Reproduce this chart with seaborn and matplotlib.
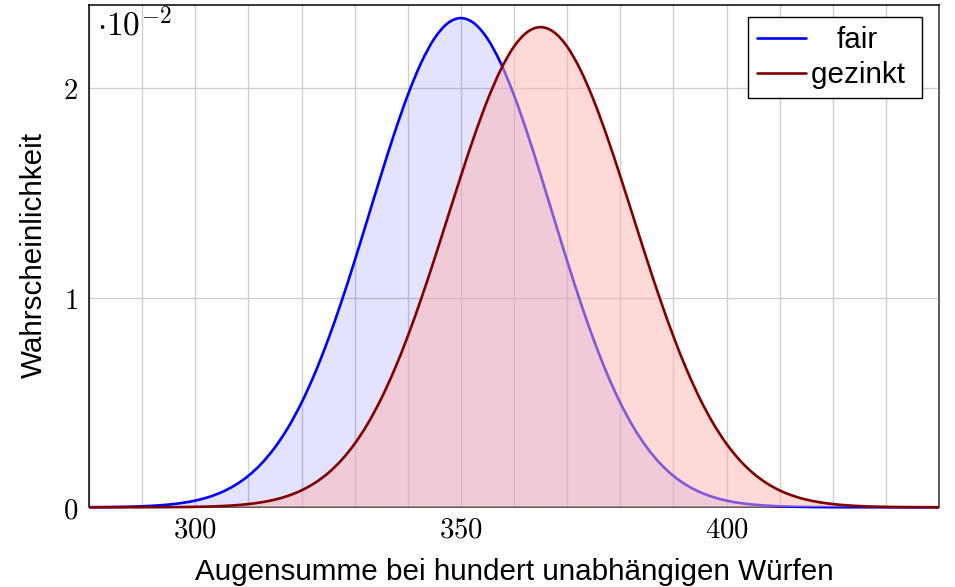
import matplotlib
matplotlib.use("Agg")
import matplotlib.pyplot as plt
from matplotlib.ticker import FixedLocator, MultipleLocator, FuncFormatter
from matplotlib.path import Path
from matplotlib.patches import PathPatch
from matplotlib.lines import Line2D
import seaborn as sns

# Augensumme bei 100 Würfen (Stützstellen)
augensumme = [280.0, 282.5, 285.0, 287.5, 290.0, 292.5, 295.0, 297.5, 300.0, 302.5,
              305.0, 307.5, 310.0, 312.5, 315.0, 317.5, 320.0, 322.5, 325.0, 327.5,
              330.0, 332.5, 335.0, 337.5, 340.0, 342.5, 345.0, 347.5, 350.0, 352.5,
              355.0, 357.5, 360.0, 362.5, 365.0, 367.5, 370.0, 372.5, 375.0, 377.5,
              380.0, 382.5, 385.0, 387.5, 390.0, 392.5, 395.0, 397.5, 400.0, 402.5,
              405.0, 407.5, 410.0, 412.5, 415.0, 417.5, 420.0, 422.5, 425.0, 427.5,
              430.0, 432.5, 435.0, 437.5, 440.0]

# Wahrscheinlichkeit in Einheiten von 10^-2
fair = [0.0005, 0.0009, 0.0017, 0.0029, 0.0049, 0.0081, 0.0131, 0.0207, 0.0321, 0.0488,
        0.0726, 0.1056, 0.1504, 0.2097, 0.2861, 0.3820, 0.4993, 0.6389, 0.8001, 0.9808,
        1.1767, 1.3819, 1.5884, 1.7871, 1.9680, 2.1213, 2.2380, 2.3111, 2.3360, 2.3111,
        2.2380, 2.1213, 1.9680, 1.7871, 1.5884, 1.3819, 1.1767, 0.9808, 0.8001, 0.6389,
        0.4993, 0.3820, 0.2861, 0.2097, 0.1504, 0.1056, 0.0726, 0.0488, 0.0321, 0.0207,
        0.0131, 0.0081, 0.0049, 0.0029, 0.0017, 0.0009, 0.0005, 0.0003, 0.0002, 0.0001,
        0.0000, 0.0000, 0.0000, 0.0000, 0.0000]

gezinkt = [0.0000, 0.0000, 0.0001, 0.0001, 0.0002, 0.0004, 0.0007, 0.0012, 0.0021, 0.0036,
           0.0060, 0.0097, 0.0155, 0.0242, 0.0369, 0.0552, 0.0809, 0.1161, 0.1632, 0.2248,
           0.3032, 0.4006, 0.5186, 0.6576, 0.8168, 0.9937, 1.1843, 1.3827, 1.5812, 1.7713,
           1.9438, 2.0894, 2.2001, 2.2693, 2.2928, 2.2693, 2.2001, 2.0894, 1.9438, 1.7713,
           1.5812, 1.3827, 1.1843, 0.9937, 0.8168, 0.6576, 0.5186, 0.4006, 0.3032, 0.2248,
           0.1632, 0.1161, 0.0809, 0.0552, 0.0369, 0.0242, 0.0155, 0.0097, 0.0060, 0.0036,
           0.0021, 0.0012, 0.0007, 0.0004, 0.0002]

serien = ["fair", "gezinkt"]
x_ticks = [300, 350, 400]
y_ticks = [0, 1, 2]
x_label = "Augensumme bei hundert unabhängigen Würfen"
y_label = "Wahrscheinlichkeit"
skala = r"$\cdot 10^{-2}$"

sns.set_theme(style="white")
plt.rcParams["font.family"] = ["Liberation Sans", "DejaVu Sans"]
plt.rcParams["mathtext.fontset"] = "cm"
plt.rcParams["text.color"] = "black"
plt.rcParams["axes.labelcolor"] = "black"

W, H = 955, 587
fig, ax = plt.subplots(figsize=(W / 100, H / 100), dpi=100)
ax_l, ax_r, ax_t, ax_b = 89, 939, 4.7, 507.3
fig.subplots_adjust(left=ax_l / W, right=ax_r / W, top=1 - ax_t / H, bottom=1 - ax_b / H)


def glatter_pfad(xs, ys, schliessen=False):
    """Stützstellen als glatte Bézier-Kurve (Catmull-Rom) verbinden."""
    n = len(xs)
    verts = [(xs[0], ys[0])]
    codes = [Path.MOVETO]
    for i in range(n - 1):
        xa, ya = (xs[i - 1], ys[i - 1]) if i > 0 else (xs[i], ys[i])
        xb, yb = (xs[i + 2], ys[i + 2]) if i + 2 < n else (xs[i + 1], ys[i + 1])
        c1 = (xs[i] + (xs[i + 1] - xa) / 6, ys[i] + (ys[i + 1] - ya) / 6)
        c2 = (xs[i + 1] - (xb - xs[i]) / 6, ys[i + 1] - (yb - ys[i]) / 6)
        verts += [c1, c2, (xs[i + 1], ys[i + 1])]
        codes += [Path.CURVE4] * 3
    if schliessen:
        verts += [(xs[-1], 0.0), (xs[0], 0.0), (xs[0], ys[0])]
        codes += [Path.LINETO, Path.LINETO, Path.CLOSEPOLY]
    return Path(verts, codes)


blau = (0.0, 0.0, 1.0)
dunkelrot = (0.5, 0.0, 0.0)
stile = {
    "fair": dict(werte=fair, linie=blau, flaeche=blau, alpha=0.11),
    "gezinkt": dict(werte=gezinkt, linie=dunkelrot, flaeche=(1.0, 0.7, 0.7), alpha=0.5),
}

# Flächen und Kurven: fair zuerst, gezinkt halbtransparent darüber
z = 2
handles = []
for name in serien:
    s = stile[name]
    ax.add_patch(PathPatch(glatter_pfad(augensumme, s["werte"], True),
                           facecolor=s["flaeche"], alpha=s["alpha"],
                           edgecolor="none", zorder=z))
    ax.add_patch(PathPatch(glatter_pfad(augensumme, s["werte"]), fill=False,
                           edgecolor=s["linie"], linewidth=1.9, zorder=z + 1,
                           clip_on=False, joinstyle="round", capstyle="butt"))
    handles.append(Line2D([], [], color=s["linie"], linewidth=1.9))
    z += 2

ax.set_xlim(280, 440)
ax.set_ylim(0, 2.4)

ax.xaxis.set_major_locator(FixedLocator(x_ticks))
ax.xaxis.set_minor_locator(MultipleLocator(10))
ax.yaxis.set_major_locator(FixedLocator(y_ticks))
ax.xaxis.set_major_formatter(FuncFormatter(lambda v, p: rf"${v:.0f}$"))
ax.yaxis.set_major_formatter(FuncFormatter(lambda v, p: rf"${v:.0f}$"))
ax.tick_params(axis="both", which="both", length=0, labelsize=20.7, colors="black")
ax.tick_params(axis="x", pad=6)
ax.tick_params(axis="y", pad=8)

ax.grid(True, which="both", axis="x", color="#cfcfcf", linewidth=1.0, zorder=0.5)
ax.grid(True, which="major", axis="y", color="#cfcfcf", linewidth=1.0, zorder=0.5)
ax.set_axisbelow(True)

for side in ("top", "left"):
    ax.spines[side].set_color("black")
    ax.spines[side].set_linewidth(1.1)
for side in ("right", "bottom"):
    ax.spines[side].set_color("#5a5a5a")
    ax.spines[side].set_linewidth(1.4)

ax.set_xlabel(x_label, fontsize=21.3, va="baseline")
ax.xaxis.set_label_coords(0.5, (ax_b - 580) / (ax_b - ax_t))
ax.set_ylabel(y_label, fontsize=21.3, va="baseline")
ax.yaxis.set_label_coords((42 - ax_l) / (ax_r - ax_l), (ax_b - 255) / (ax_b - ax_t))

ax.text((97 - ax_l) / (ax_r - ax_l), (ax_b - 35.5) / (ax_b - ax_t), skala,
        transform=ax.transAxes, ha="left", va="baseline", fontsize=24, zorder=6)

leg_size = 21.3
leg = ax.legend(handles=handles, labels=[serien[0], serien[1] + " "],
                loc="upper right",
                bbox_to_anchor=((921.7 - ax_l) / (ax_r - ax_l), (ax_b - 17) / (ax_b - ax_t)),
                borderaxespad=0, frameon=True, fancybox=False, edgecolor="black",
                framealpha=1, fontsize=leg_size, handlelength=1.65, handletextpad=0.15,
                borderpad=0.3, labelspacing=0.24)
leg.get_frame().set_linewidth(1.0)
leg.set_zorder(10)

# "fair" mittig über "gezinkt" ausrichten
fig.canvas.draw()
renderer = fig.canvas.get_renderer()
mess = [fig.text(0, 0, t, fontsize=leg_size) for t in serien]
w0, w1 = (m.get_window_extent(renderer).width for m in mess)
for m in mess:
    m.remove()
leg.get_texts()[0].set_position(((w1 - w0) / 2, 0))

fig.savefig("out.png", dpi=100)
